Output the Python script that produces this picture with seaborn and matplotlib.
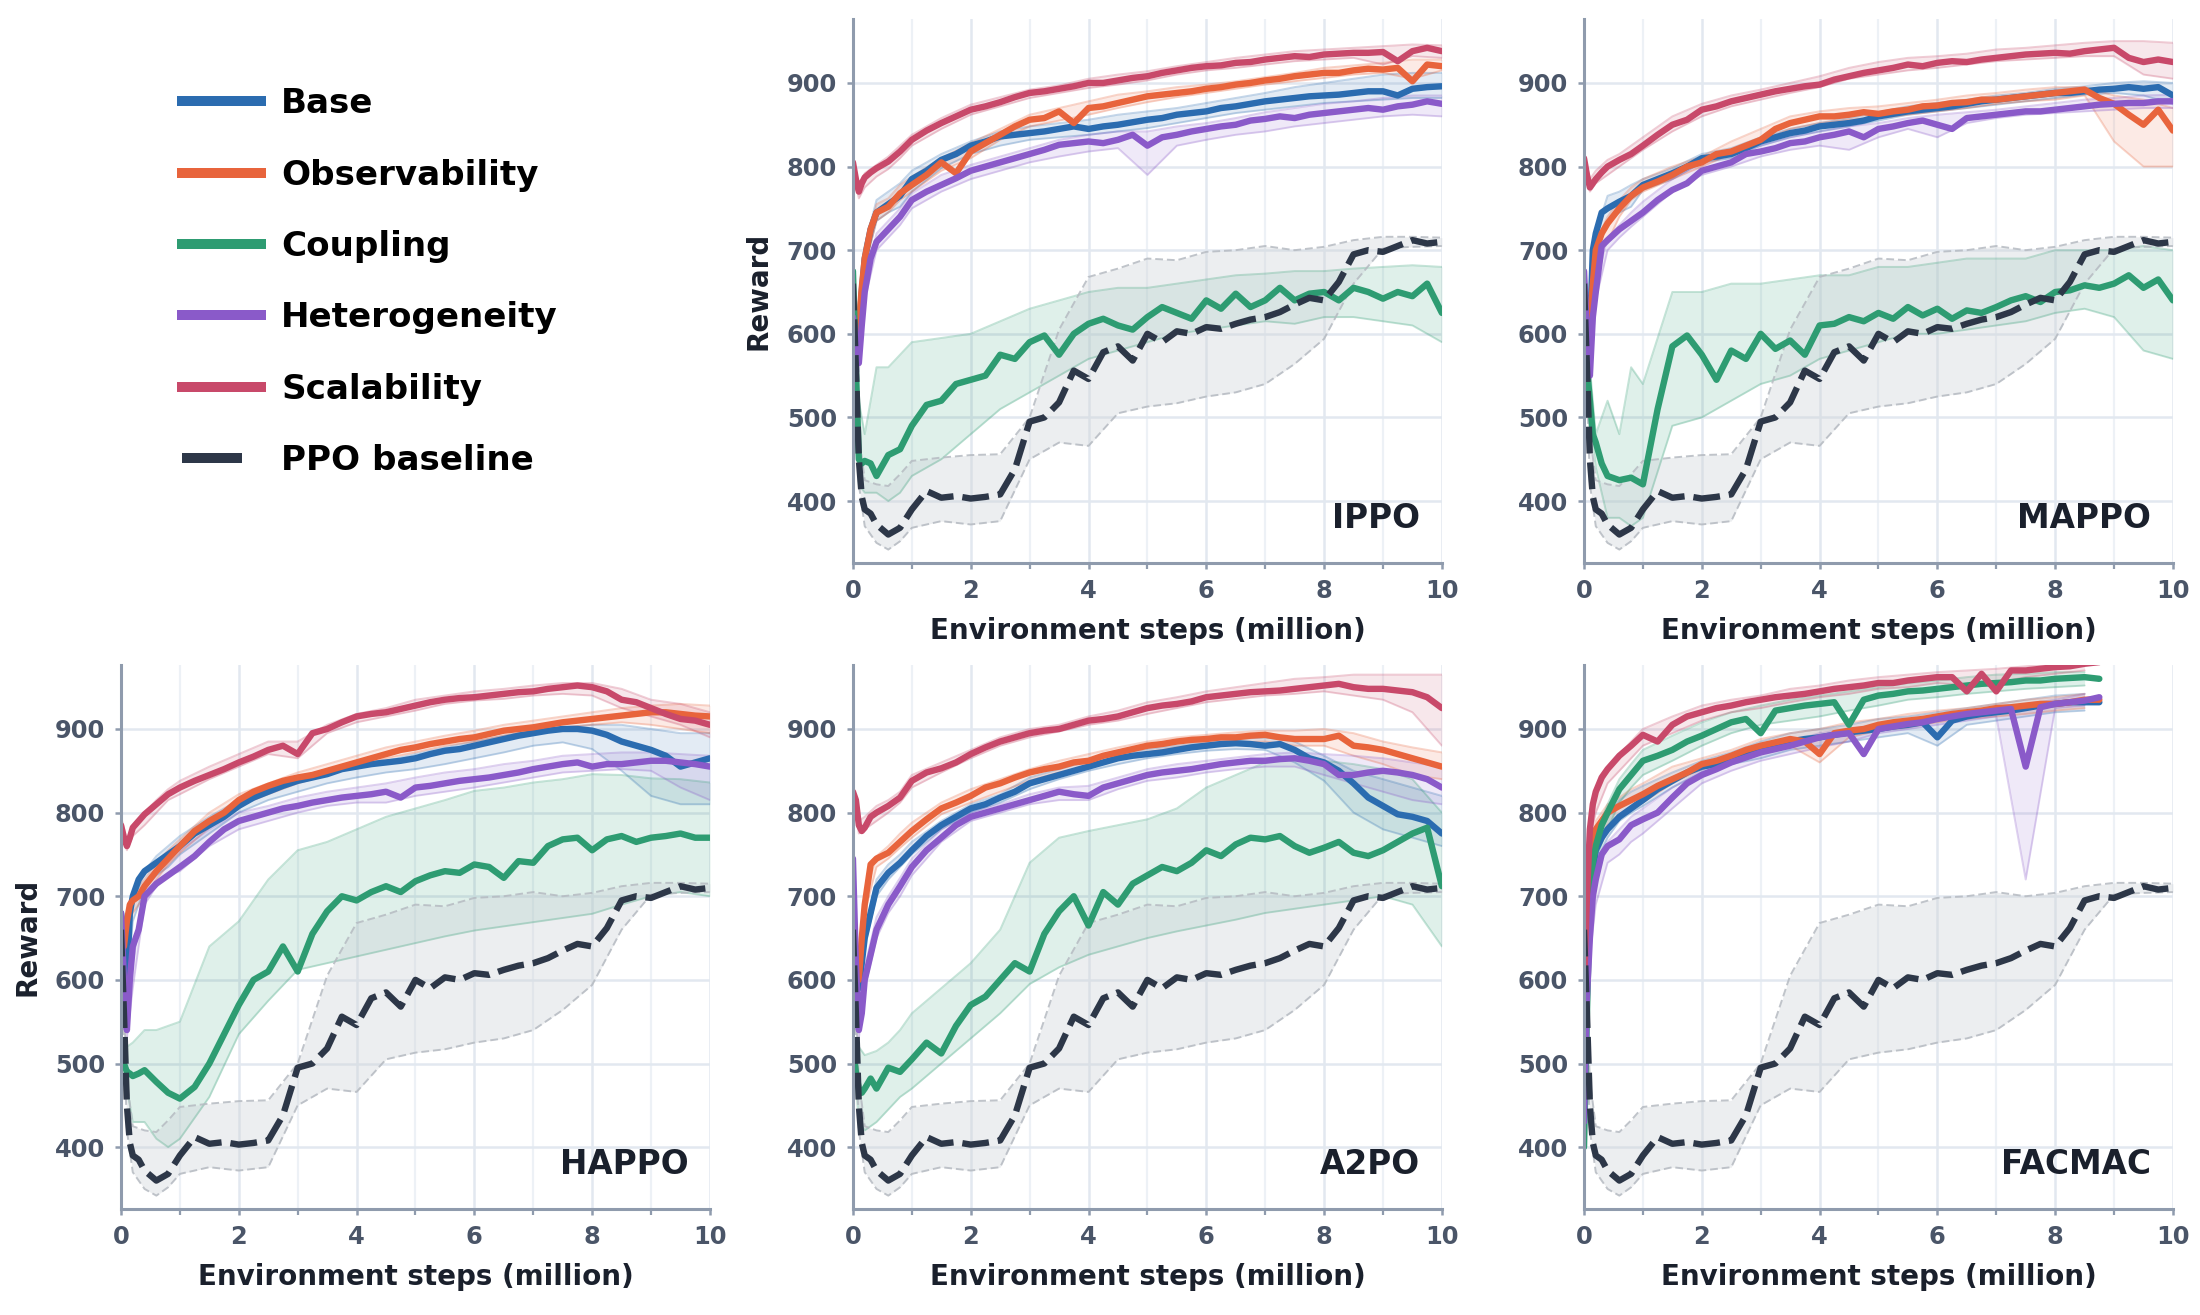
import numpy as np
import pandas as pd
import matplotlib
matplotlib.use("Agg")
import matplotlib.pyplot as plt
from matplotlib.lines import Line2D
from matplotlib.ticker import FixedLocator
import seaborn as sns

nan = float("nan")

# ---------------- data ----------------
X = [0.0, 0.05, 0.1, 0.15, 0.2, 0.3, 0.4, 0.6, 0.8,
     1.0, 1.25, 1.5, 1.75, 2.0, 2.25, 2.5, 2.75, 3.0,
     3.25, 3.5, 3.75, 4.0, 4.25, 4.5, 4.75, 5.0,
     5.25, 5.5, 5.75, 6.0, 6.25, 6.5, 6.75, 7.0,
     7.25, 7.5, 7.75, 8.0, 8.25, 8.5, 8.75, 9.0,
     9.25, 9.5, 9.75, 10.0]
BX = [0.0, 0.1, 0.2, 0.4, 0.6, 0.8,
      1.0, 1.5, 2.0, 2.5, 3.0, 3.5, 4.0, 4.5, 5.0,
      5.5, 6.0, 6.5, 7.0, 7.5, 8.0, 8.5, 9.0, 9.5, 10.0]

PANELS = ["IPPO", "MAPPO", "HAPPO", "A2PO", "FACMAC"]
SERIES = ["Base", "Observability", "Coupling", "Heterogeneity", "Scalability"]
PPO_LABEL = "PPO baseline"
X_TICKS = [0, 2, 4, 6, 8, 10]
X_MINOR = [1, 3, 5, 7, 9]
Y_TICKS = [400, 500, 600, 700, 800, 900]

PPO_MEAN = [660, 560, 450, 405, 390, 385, 372, 360, 368,
            390, 412, 404, 406, 403, 405, 408, 438, 495,
            500, 518, 556, 546, 578, 585, 568, 600,
            590, 603, 600, 608, 606, 612, 617, 620,
            626, 635, 643, 640, 662, 695, 700, 698,
            705, 712, 708, 710]
PPO_LO = [655, 420, 370, 350, 342, 352,
          368, 376, 372, 376, 450, 470, 466, 505, 513,
          517, 525, 530, 540, 564, 594, 660, 702, 704, 705]
PPO_HI = [665, 480, 425, 420, 418, 432,
          448, 452, 455, 456, 500, 605, 668, 678, 690,
          688, 698, 700, 705, 700, 704, 712, 716, 716, 715]

# IPPO
IPPO_SCAL = [805, 785, 770, 780, 787, 793, 798, 806, 818,
             832, 843, 852, 860, 868, 872, 877, 883, 888,
             890, 893, 896, 900, 900, 903, 906, 908,
             912, 915, 918, 920, 921, 924, 925, 928,
             930, 932, 931, 934, 935, 936, 936, 937,
             926, 938, 942, 938]
IPPO_SCAL_LO = [795, 762, 775, 788, 797, 810,
                825, 845, 862, 872, 882, 888, 894, 898, 903,
                910, 915, 918, 922, 926, 928, 930, 922, 932, 930]
IPPO_SCAL_HI = [812, 778, 792, 802, 812, 825,
                838, 858, 874, 883, 892, 897, 905, 910, 914,
                920, 925, 930, 934, 938, 940, 942, 944, 946, 945]
IPPO_OBS = [615, 590, 610, 655, 690, 725, 745, 752, 768,
            778, 790, 805, 792, 818, 828, 838, 848, 856,
            858, 866, 852, 870, 872, 876, 880, 884,
            886, 888, 890, 893, 895, 898, 900, 903,
            905, 908, 910, 912, 912, 915, 917, 916,
            918, 902, 922, 920]
IPPO_OBS_LO = [610, 590, 680, 735, 745, 760,
               770, 795, 810, 832, 848, 855, 862, 870, 877,
               883, 888, 893, 898, 902, 906, 910, 912, 905, 915]
IPPO_OBS_HI = [620, 630, 700, 755, 762, 778,
               788, 810, 828, 845, 862, 870, 878, 886, 890,
               895, 898, 902, 907, 912, 918, 921, 924, 928, 928]
IPPO_BASE = [610, 590, 600, 650, 690, 725, 745, 755, 765,
             785, 795, 808, 815, 825, 830, 836, 838, 840,
             842, 845, 848, 845, 848, 850, 853, 856,
             858, 862, 864, 866, 870, 872, 875, 878,
             880, 882, 884, 885, 886, 888, 890, 890,
             885, 893, 895, 896]
IPPO_BASE_LO = [605, 585, 680, 735, 745, 752,
                770, 798, 815, 825, 832, 835, 838, 842, 846,
                852, 858, 864, 868, 872, 876, 878, 880, 882, 882]
IPPO_BASE_HI = [615, 620, 705, 760, 770, 780,
                795, 815, 830, 842, 848, 852, 856, 862, 866,
                870, 876, 882, 888, 895, 900, 905, 910, 912, 912]
IPPO_HET = [620, 590, 565, 610, 650, 690, 710, 725, 740,
            760, 770, 778, 786, 795, 800, 805, 810, 815,
            820, 826, 828, 830, 828, 832, 838, 825,
            835, 838, 842, 845, 848, 850, 855, 857,
            860, 858, 862, 864, 866, 868, 870, 868,
            872, 874, 878, 875]
IPPO_HET_LO = [615, 555, 640, 700, 715, 730,
               750, 770, 785, 795, 805, 812, 818, 822, 790,
               825, 832, 838, 842, 848, 852, 856, 860, 862, 860]
IPPO_HET_HI = [625, 575, 660, 720, 735, 750,
               768, 790, 802, 812, 822, 832, 838, 842, 842,
               848, 852, 858, 865, 870, 875, 878, 882, 885, 885]
IPPO_COUP = [675, 560, 450, 445, 448, 445, 430, 455, 462,
             490, 515, 520, 540, 545, 550, 575, 570, 590,
             598, 575, 600, 612, 618, 610, 605, 620,
             632, 625, 618, 640, 630, 648, 632, 640,
             655, 640, 648, 650, 640, 655, 650, 642,
             650, 645, 660, 625]
IPPO_COUP_LO = [670, 420, 410, 410, 400, 410,
                430, 450, 480, 510, 530, 550, 570, 580, 590,
                600, 605, 610, 615, 612, 620, 620, 615, 610, 590]
IPPO_COUP_HI = [680, 520, 480, 560, 560, 575,
                590, 595, 600, 615, 630, 640, 650, 655, 655,
                660, 665, 670, 672, 675, 675, 678, 680, 682, 680]

# MAPPO
MAPPO_SCAL = [810, 790, 775, 780, 785, 793, 800, 808, 815,
              825, 838, 850, 856, 868, 872, 878, 882, 886,
              890, 893, 896, 898, 904, 908, 912, 915,
              918, 922, 920, 924, 926, 925, 928, 930,
              932, 934, 935, 936, 935, 938, 940, 942,
              930, 925, 928, 925]
MAPPO_SCAL_LO = [805, 770, 780, 790, 800, 810,
                 820, 842, 860, 872, 880, 888, 895, 905, 910,
                 915, 918, 922, 926, 928, 930, 932, 932, 910, 905]
MAPPO_SCAL_HI = [815, 785, 795, 808, 815, 825,
                 835, 860, 875, 885, 892, 900, 908, 918, 925,
                 930, 932, 935, 940, 942, 945, 948, 950, 950, 948]
MAPPO_BASE = [660, 610, 600, 700, 720, 745, 750, 758, 765,
              778, 785, 792, 800, 810, 812, 815, 822, 830,
              835, 840, 843, 848, 850, 852, 855, 860,
              863, 866, 868, 870, 872, 875, 878, 880,
              882, 884, 886, 888, 888, 890, 892, 893,
              895, 893, 895, 885]
MAPPO_BASE_LO = [655, 595, 690, 735, 745, 752,
                 772, 785, 805, 810, 825, 835, 842, 848, 855,
                 862, 866, 870, 874, 878, 882, 886, 888, 885, 875]
MAPPO_BASE_HI = [665, 615, 720, 765, 770, 778,
                 785, 798, 815, 822, 835, 845, 852, 858, 865,
                 872, 876, 880, 885, 888, 893, 896, 900, 902, 900]
MAPPO_OBS = [620, 600, 610, 660, 700, 720, 732, 750, 765,
             775, 782, 790, 800, 805, 815, 818, 825, 832,
             845, 852, 856, 860, 860, 862, 865, 863,
             866, 868, 872, 873, 876, 877, 880, 880,
             882, 884, 886, 888, 890, 892, 882, 875,
             862, 850, 868, 843]
MAPPO_OBS_LO = [615, 590, 690, 710, 740, 760,
                770, 785, 800, 815, 830, 845, 852, 856, 858,
                862, 866, 870, 875, 878, 880, 885, 830, 800, 800]
MAPPO_OBS_HI = [625, 615, 710, 740, 760, 775,
                785, 800, 812, 830, 845, 860, 866, 870, 872,
                876, 880, 885, 888, 892, 895, 895, 885, 880, 870]
MAPPO_HET = [675, 600, 550, 620, 650, 705, 712, 725, 735,
             745, 760, 772, 780, 795, 800, 805, 815, 818,
             822, 828, 830, 835, 838, 842, 835, 845,
             848, 852, 855, 850, 845, 858, 860, 862,
             864, 866, 866, 868, 870, 872, 874, 875,
             876, 876, 878, 878]
MAPPO_HET_LO = [670, 540, 640, 700, 715, 728,
                740, 770, 790, 800, 812, 820, 825, 820, 835,
                845, 835, 852, 858, 862, 864, 866, 868, 870, 870]
MAPPO_HET_HI = [680, 560, 660, 715, 730, 745,
                758, 785, 805, 815, 825, 835, 842, 848, 852,
                858, 862, 865, 868, 872, 876, 880, 882, 885, 886]
MAPPO_COUP = [660, 560, 520, 480, 470, 445, 430, 425, 428,
              420, 510, 585, 598, 575, 545, 580, 570, 600,
              582, 592, 575, 610, 612, 620, 615, 625,
              618, 632, 622, 630, 618, 628, 625, 632,
              640, 645, 638, 650, 652, 658, 655, 660,
              670, 655, 665, 640]
MAPPO_COUP_LO = [655, 500, 440, 380, 380, 370,
                 380, 490, 500, 520, 540, 550, 570, 580, 590,
                 600, 600, 605, 610, 615, 625, 630, 620, 580, 570]
MAPPO_COUP_HI = [665, 560, 480, 520, 480, 560,
                 540, 650, 650, 660, 660, 665, 670, 670, 680,
                 680, 685, 690, 690, 690, 700, 700, 700, 705, 700]

# HAPPO
HAPPO_SCAL = [785, 770, 760, 770, 782, 790, 798, 810, 822,
              830, 838, 845, 852, 860, 867, 875, 880, 870,
              895, 900, 908, 915, 918, 920, 924, 928,
              932, 935, 937, 938, 940, 942, 944, 945,
              948, 950, 952, 950, 945, 935, 932, 925,
              918, 912, 910, 905]
HAPPO_SCAL_LO = [775, 755, 772, 785, 800, 815,
                 822, 840, 855, 870, 865, 895, 908, 915, 922,
                 930, 934, 936, 940, 942, 940, 925, 915, 905, 890]
HAPPO_SCAL_HI = [795, 768, 785, 800, 815, 828,
                 838, 855, 870, 885, 885, 905, 918, 925, 935,
                 940, 945, 948, 952, 955, 955, 948, 935, 930, 920]
HAPPO_OBS = [660, 640, 670, 690, 695, 700, 712, 730, 745,
             760, 778, 790, 800, 815, 825, 832, 838, 842,
             845, 850, 855, 860, 865, 870, 875, 878,
             882, 885, 888, 890, 894, 898, 900, 902,
             905, 908, 910, 912, 914, 916, 918, 920,
             920, 918, 916, 915]
HAPPO_OBS_LO = [655, 660, 680, 700, 720, 738,
                752, 782, 808, 822, 835, 845, 855, 865, 872,
                880, 885, 892, 898, 902, 905, 908, 905, 900, 895]
HAPPO_OBS_HI = [665, 680, 705, 720, 740, 755,
                768, 800, 822, 835, 848, 858, 868, 878, 885,
                892, 898, 905, 910, 915, 920, 925, 928, 930, 928]
HAPPO_BASE = [680, 650, 600, 680, 700, 720, 730, 740, 750,
              760, 775, 785, 795, 808, 818, 825, 832, 838,
              842, 846, 852, 855, 858, 860, 862, 865,
              870, 874, 876, 880, 884, 888, 892, 895,
              898, 900, 900, 898, 893, 885, 880, 875,
              868, 855, 860, 865]
HAPPO_BASE_LO = [675, 590, 670, 710, 725, 735,
                 750, 775, 800, 815, 825, 835, 842, 848, 852,
                 858, 865, 872, 880, 884, 876, 850, 820, 810, 810]
HAPPO_BASE_HI = [685, 615, 690, 730, 748, 760,
                 772, 795, 815, 830, 842, 852, 858, 862, 870,
                 878, 885, 892, 898, 902, 905, 905, 900, 895, 895]
HAPPO_HET = [680, 600, 540, 600, 640, 660, 700, 715, 725,
             735, 748, 765, 780, 790, 795, 800, 805, 808,
             812, 815, 818, 820, 822, 825, 818, 830,
             832, 835, 838, 840, 842, 845, 848, 852,
             855, 858, 860, 855, 858, 858, 860, 862,
             862, 860, 858, 855]
HAPPO_HET_LO = [675, 530, 590, 690, 712, 725,
                730, 760, 780, 790, 800, 808, 812, 812, 820,
                825, 830, 836, 842, 848, 850, 852, 850, 830, 815]
HAPPO_HET_HI = [685, 555, 620, 708, 730, 745,
                755, 780, 800, 808, 818, 825, 830, 835, 842,
                848, 852, 858, 862, 868, 870, 872, 872, 870, 868]
HAPPO_COUP = [520, 500, 490, 488, 485, 488, 492, 478, 465,
              458, 472, 500, 535, 570, 600, 610, 640, 610,
              655, 682, 700, 695, 705, 712, 705, 718,
              725, 730, 728, 738, 735, 722, 742, 740,
              760, 768, 770, 755, 768, 772, 765, 770,
              772, 775, 770, 770]
HAPPO_COUP_LO = [515, 470, 430, 430, 410, 400,
                 410, 460, 535, 575, 612, 620, 628, 636, 644,
                 652, 659, 664, 669, 674, 679, 690, 700, 705, 700]
HAPPO_COUP_HI = [525, 520, 525, 540, 540, 545,
                 550, 640, 670, 720, 755, 765, 780, 795, 805,
                 815, 826, 830, 836, 840, 846, 845, 841, 840, 836]

# A2PO
A2PO_SCAL = [825, 815, 785, 778, 782, 795, 800, 808, 818,
             838, 848, 853, 860, 870, 878, 885, 890, 895,
             898, 900, 905, 910, 912, 915, 920, 925,
             928, 930, 933, 938, 940, 942, 944, 945,
             946, 948, 950, 952, 954, 950, 948, 948,
             946, 944, 938, 925]
A2PO_SCAL_LO = [818, 775, 780, 790, 800, 812,
                830, 848, 865, 880, 890, 897, 905, 910, 918,
                925, 932, 936, 940, 942, 945, 940, 935, 920, 880]
A2PO_SCAL_HI = [832, 790, 795, 808, 815, 825,
                845, 860, 875, 890, 900, 905, 915, 922, 932,
                938, 945, 950, 955, 960, 962, 965, 965, 965, 965]
A2PO_OBS = [620, 605, 600, 650, 690, 738, 745, 752, 765,
            778, 792, 805, 812, 820, 830, 835, 842, 848,
            852, 855, 860, 862, 868, 872, 876, 880,
            882, 885, 887, 888, 890, 890, 892, 893,
            890, 888, 888, 888, 892, 880, 878, 875,
            870, 865, 860, 855]
A2PO_OBS_LO = [615, 590, 680, 735, 745, 758,
               770, 798, 812, 825, 838, 848, 855, 865, 872,
               878, 882, 884, 885, 880, 880, 868, 858, 845, 840]
A2PO_OBS_HI = [625, 615, 700, 748, 760, 775,
               788, 812, 828, 840, 852, 862, 870, 878, 885,
               890, 893, 896, 898, 898, 900, 895, 885, 878, 872]
A2PO_BASE = [620, 600, 590, 620, 650, 680, 710, 728, 740,
             755, 772, 785, 795, 805, 810, 818, 825, 835,
             840, 845, 850, 855, 860, 865, 868, 870,
             872, 875, 878, 880, 882, 883, 882, 880,
             882, 875, 865, 860, 850, 835, 818, 808,
             798, 795, 790, 775]
A2PO_BASE_LO = [615, 585, 640, 700, 720, 735,
                750, 780, 800, 812, 828, 840, 850, 858, 865,
                870, 874, 876, 875, 860, 838, 800, 780, 770, 760]
A2PO_BASE_HI = [625, 605, 660, 720, 738, 750,
                765, 790, 810, 822, 842, 852, 862, 870, 876,
                880, 884, 888, 890, 885, 868, 850, 840, 830, 820]
A2PO_HET = [745, 620, 540, 560, 600, 630, 660, 690, 712,
            735, 755, 770, 785, 795, 800, 805, 810, 815,
            820, 825, 822, 820, 830, 835, 840, 845,
            848, 850, 852, 855, 858, 860, 862, 862,
            864, 865, 862, 858, 845, 845, 848, 850,
            848, 845, 840, 830]
A2PO_HET_LO = [740, 530, 590, 650, 680, 700,
               725, 765, 790, 800, 810, 815, 815, 828, 838,
               842, 848, 852, 855, 855, 845, 835, 825, 815, 810]
A2PO_HET_HI = [750, 560, 615, 675, 700, 722,
               745, 780, 800, 810, 822, 830, 832, 842, 852,
               858, 862, 866, 870, 872, 870, 868, 865, 860, 855]
A2PO_COUP = [520, 490, 470, 465, 470, 482, 470, 495, 490,
             505, 525, 512, 545, 570, 580, 600, 620, 610,
             655, 682, 700, 665, 705, 690, 715, 725,
             735, 730, 740, 755, 748, 762, 770, 768,
             772, 760, 752, 758, 765, 752, 748, 755,
             765, 775, 782, 712]
A2PO_COUP_LO = [515, 430, 420, 430, 445, 460,
                470, 500, 530, 560, 595, 615, 630, 640, 650,
                658, 665, 672, 680, 685, 690, 695, 700, 690, 640]
A2PO_COUP_HI = [525, 520, 510, 515, 525, 540,
                560, 590, 620, 660, 740, 770, 778, 785, 792,
                805, 830, 845, 860, 865, 862, 858, 852, 840, 800]

# FACMAC
FACMAC_SCAL = [590, 700, 780, 810, 825, 842, 852, 868, 880,
               893, 885, 905, 915, 920, 925, 928, 932, 935,
               938, 940, 942, 945, 948, 950, 952, 955,
               955, 958, 960, 962, 962, 945, 966, 945,
               970, 970, 972, 974, 975, 978, 980, nan,
               nan, nan, nan, nan]
FACMAC_SCAL_LO = [585, 770, 800, 835, 850, 865,
                  880, 895, 910, 920, 925, 932, 938, 942, 948,
                  950, 955, 952, 955, 962, 966, 970, nan, nan, nan]
FACMAC_SCAL_HI = [600, 790, 820, 850, 870, 885,
                  900, 915, 928, 935, 940, 948, 952, 958, 962,
                  965, 968, 970, 972, 975, 978, 980, nan, nan, nan]
FACMAC_COUP = [400, 560, 700, 740, 760, 785, 800, 828, 845,
               862, 868, 875, 885, 892, 900, 908, 912, 895,
               922, 925, 928, 930, 932, 905, 935, 940,
               942, 945, 946, 948, 950, 952, 954, 955,
               956, 958, 958, 960, 961, 962, 960, nan,
               nan, nan, nan, nan]
FACMAC_COUP_LO = [395, 680, 745, 780, 812, 830,
                  845, 862, 880, 895, 905, 910, 915, 922, 928,
                  935, 938, 942, 945, 948, 950, 952, nan, nan, nan]
FACMAC_COUP_HI = [405, 720, 775, 810, 840, 858,
                  875, 892, 908, 920, 928, 935, 940, 945, 950,
                  955, 958, 962, 965, 966, 968, 968, nan, nan, nan]
FACMAC_BASE = [500, 620, 700, 730, 755, 770, 780, 795, 805,
               815, 828, 838, 848, 855, 858, 865, 870, 875,
               880, 885, 888, 890, 893, 896, 898, 900,
               903, 905, 908, 890, 910, 915, 918, 920,
               922, 925, 928, 930, 932, 932, 932, nan,
               nan, nan, nan, nan]
FACMAC_BASE_LO = [495, 680, 740, 770, 790, 800,
                  808, 830, 848, 858, 865, 875, 880, 885, 890,
                  895, 880, 905, 910, 915, 920, 922, nan, nan, nan]
FACMAC_BASE_HI = [505, 720, 765, 795, 815, 825,
                  832, 848, 862, 872, 885, 895, 900, 905, 912,
                  915, 920, 925, 930, 935, 940, 942, nan, nan, nan]
FACMAC_OBS = [560, 650, 720, 760, 780, 790, 800, 808, 815,
              822, 832, 840, 848, 858, 862, 868, 875, 880,
              884, 888, 885, 870, 895, 898, 900, 905,
              908, 910, 912, 915, 918, 920, 922, 925,
              926, 928, 930, 930, 932, 935, 935, nan,
              nan, nan, nan, nan]
FACMAC_OBS_LO = [555, 700, 760, 785, 795, 805,
                 812, 835, 852, 862, 872, 880, 860, 890, 898,
                 902, 908, 912, 915, 918, 922, 925, nan, nan, nan]
FACMAC_OBS_HI = [565, 740, 790, 810, 818, 828,
                 835, 855, 865, 875, 888, 895, 900, 908, 912,
                 918, 922, 925, 930, 935, 938, 942, nan, nan, nan]
FACMAC_HET = [430, 580, 650, 700, 720, 750, 760, 768, 785,
              792, 800, 818, 835, 845, 852, 860, 866, 872,
              876, 880, 885, 890, 893, 895, 870, 900,
              903, 906, 908, 912, 915, 918, 920, 922,
              924, 855, 926, 930, 932, 934, 938, nan,
              nan, nan, nan, nan]
FACMAC_HET_LO = [425, 630, 690, 740, 750, 765,
                 775, 805, 835, 850, 862, 870, 878, 885, 895,
                 900, 905, 910, 915, 720, 925, 928, nan, nan, nan]
FACMAC_HET_HI = [435, 670, 715, 765, 780, 795,
                 805, 830, 850, 862, 875, 885, 895, 900, 905,
                 910, 915, 920, 925, 930, 935, 942, nan, nan, nan]

DATA = {
    ("IPPO", "Base"): (IPPO_BASE, IPPO_BASE_LO, IPPO_BASE_HI),
    ("IPPO", "Observability"): (IPPO_OBS, IPPO_OBS_LO, IPPO_OBS_HI),
    ("IPPO", "Coupling"): (IPPO_COUP, IPPO_COUP_LO, IPPO_COUP_HI),
    ("IPPO", "Heterogeneity"): (IPPO_HET, IPPO_HET_LO, IPPO_HET_HI),
    ("IPPO", "Scalability"): (IPPO_SCAL, IPPO_SCAL_LO, IPPO_SCAL_HI),
    ("MAPPO", "Base"): (MAPPO_BASE, MAPPO_BASE_LO, MAPPO_BASE_HI),
    ("MAPPO", "Observability"): (MAPPO_OBS, MAPPO_OBS_LO, MAPPO_OBS_HI),
    ("MAPPO", "Coupling"): (MAPPO_COUP, MAPPO_COUP_LO, MAPPO_COUP_HI),
    ("MAPPO", "Heterogeneity"): (MAPPO_HET, MAPPO_HET_LO, MAPPO_HET_HI),
    ("MAPPO", "Scalability"): (MAPPO_SCAL, MAPPO_SCAL_LO, MAPPO_SCAL_HI),
    ("HAPPO", "Base"): (HAPPO_BASE, HAPPO_BASE_LO, HAPPO_BASE_HI),
    ("HAPPO", "Observability"): (HAPPO_OBS, HAPPO_OBS_LO, HAPPO_OBS_HI),
    ("HAPPO", "Coupling"): (HAPPO_COUP, HAPPO_COUP_LO, HAPPO_COUP_HI),
    ("HAPPO", "Heterogeneity"): (HAPPO_HET, HAPPO_HET_LO, HAPPO_HET_HI),
    ("HAPPO", "Scalability"): (HAPPO_SCAL, HAPPO_SCAL_LO, HAPPO_SCAL_HI),
    ("A2PO", "Base"): (A2PO_BASE, A2PO_BASE_LO, A2PO_BASE_HI),
    ("A2PO", "Observability"): (A2PO_OBS, A2PO_OBS_LO, A2PO_OBS_HI),
    ("A2PO", "Coupling"): (A2PO_COUP, A2PO_COUP_LO, A2PO_COUP_HI),
    ("A2PO", "Heterogeneity"): (A2PO_HET, A2PO_HET_LO, A2PO_HET_HI),
    ("A2PO", "Scalability"): (A2PO_SCAL, A2PO_SCAL_LO, A2PO_SCAL_HI),
    ("FACMAC", "Base"): (FACMAC_BASE, FACMAC_BASE_LO, FACMAC_BASE_HI),
    ("FACMAC", "Observability"): (FACMAC_OBS, FACMAC_OBS_LO, FACMAC_OBS_HI),
    ("FACMAC", "Coupling"): (FACMAC_COUP, FACMAC_COUP_LO, FACMAC_COUP_HI),
    ("FACMAC", "Heterogeneity"): (FACMAC_HET, FACMAC_HET_LO, FACMAC_HET_HI),
    ("FACMAC", "Scalability"): (FACMAC_SCAL, FACMAC_SCAL_LO, FACMAC_SCAL_HI),
}

# ---------------- style ----------------
COLORS = {
    "Base": "#2b6cb0",
    "Observability": "#e8643c",
    "Coupling": "#2e9c72",
    "Heterogeneity": "#8a5ac9",
    "Scalability": "#c8496a",
    PPO_LABEL: "#2d3748",
}
ORDER = SERIES + [PPO_LABEL]
DASHES = {s: "" for s in SERIES}
DASHES[PPO_LABEL] = (4.2, 1.4)

SPINE = "#8f9bad"
TICKC = "#4a5568"
DARK = "#1a202c"
GRID = "#e2e8f0"
GRID_MINOR = "#edf1f6"
PPO_BAND = "#cfd3d8"
PPO_EDGE = "#b5bac1"

sns.set_theme(style="whitegrid")
plt.rcParams["font.family"] = ["DejaVu Sans"]
plt.rcParams["font.weight"] = "bold"
plt.rcParams["axes.labelweight"] = "bold"

fig = plt.figure(figsize=(11, 6.575), dpi=200)
fig.patch.set_facecolor("white")

W = 0.2677
H = 0.4140
POS = {
    "IPPO": (0.3877, 0.5719),
    "MAPPO": (0.7200, 0.5719),
    "HAPPO": (0.0550, 0.0806),
    "A2PO": (0.3877, 0.0806),
    "FACMAC": (0.7200, 0.0806),
}
YLABEL_PANELS = {"IPPO", "HAPPO"}


def draw_panel(ax, name):
    ax.set_facecolor("white")
    rows = []
    # shaded seed ranges
    for s in SERIES:
        mean, lo, hi = DATA[(name, s)]
        c = COLORS[s]
        alpha = 0.15 if s == "Coupling" else 0.13
        ax.fill_between(BX, lo, hi, color=c, alpha=alpha, lw=0, zorder=1)
        ax.plot(BX, lo, color=c, alpha=0.28, lw=0.7, zorder=1.2)
        ax.plot(BX, hi, color=c, alpha=0.28, lw=0.7, zorder=1.2)
        rows += [(xv, yv, s) for xv, yv in zip(X, mean)]
    ax.fill_between(BX, PPO_LO, PPO_HI, color=PPO_BAND, alpha=0.38, lw=0, zorder=1)
    ax.plot(BX, PPO_LO, color=PPO_EDGE, alpha=0.85, lw=0.7, ls=(0, (4, 2)), zorder=1.2)
    ax.plot(BX, PPO_HI, color=PPO_EDGE, alpha=0.85, lw=0.7, ls=(0, (4, 2)), zorder=1.2)
    rows += [(xv, yv, PPO_LABEL) for xv, yv in zip(X, PPO_MEAN)]

    df = pd.DataFrame(rows, columns=["step", "reward", "variant"]).dropna()
    sns.lineplot(data=df, x="step", y="reward", hue="variant", style="variant",
                 hue_order=ORDER, style_order=ORDER, palette=COLORS,
                 dashes=DASHES, linewidth=2.3, estimator=None, errorbar=None,
                 legend=False, ax=ax)

    ax.set_xlim(0, 10)
    ax.set_ylim(326, 977)
    ax.set_xticks(X_TICKS)
    ax.xaxis.set_minor_locator(FixedLocator(X_MINOR))
    ax.set_yticks(Y_TICKS)
    ax.grid(True, which="major", color=GRID, lw=0.9)
    ax.grid(True, which="minor", axis="x", color=GRID_MINOR, lw=0.8)
    ax.set_axisbelow(True)
    for sp in ["top", "right"]:
        ax.spines[sp].set_visible(False)
    for sp in ["left", "bottom"]:
        ax.spines[sp].set_color(SPINE)
        ax.spines[sp].set_linewidth(1.1)
    ax.tick_params(axis="both", which="major", direction="out", length=2.2,
                   width=0.9, color=SPINE, labelsize=8.7, labelcolor=TICKC, pad=3.5,
                   bottom=True, left=True)
    ax.tick_params(axis="x", which="minor", direction="out", length=2.0,
                   width=0.8, color=SPINE, bottom=True)
    for lab in ax.get_xticklabels() + ax.get_yticklabels():
        lab.set_fontweight("bold")
    ax.set_xlabel("Environment steps (million)", fontsize=10, fontweight="bold",
                  color=DARK, labelpad=5)
    if name in YLABEL_PANELS:
        ax.set_ylabel("Reward", fontsize=10, fontweight="bold", color=DARK, labelpad=5)
    else:
        ax.set_ylabel("")
    ax.text(0.963, 0.064, name, transform=ax.transAxes, ha="right", va="baseline",
            fontsize=11.8, fontweight="bold", color=DARK, zorder=10)


for name in PANELS:
    x0, y0 = POS[name]
    ax = fig.add_axes([x0, y0, W, H])
    draw_panel(ax, name)

# legend in the empty top-left slot
handles = []
for s in SERIES:
    handles.append(Line2D([], [], color=COLORS[s], lw=3.6, solid_capstyle="butt"))
handles.append(Line2D([], [], color=COLORS[PPO_LABEL], lw=3.6,
                      linestyle=(8.5, (6, 3)), dash_capstyle="butt"))
fig.legend(handles, ORDER, loc="upper left", bbox_to_anchor=(0.0805, 0.9335),
           frameon=False, prop={"size": 12.3, "weight": "bold"},
           handlelength=2.6, handletextpad=0.45, labelspacing=1.12,
           borderpad=0, borderaxespad=0, labelcolor="black")

fig.savefig("out.png", dpi=200, facecolor="white")
